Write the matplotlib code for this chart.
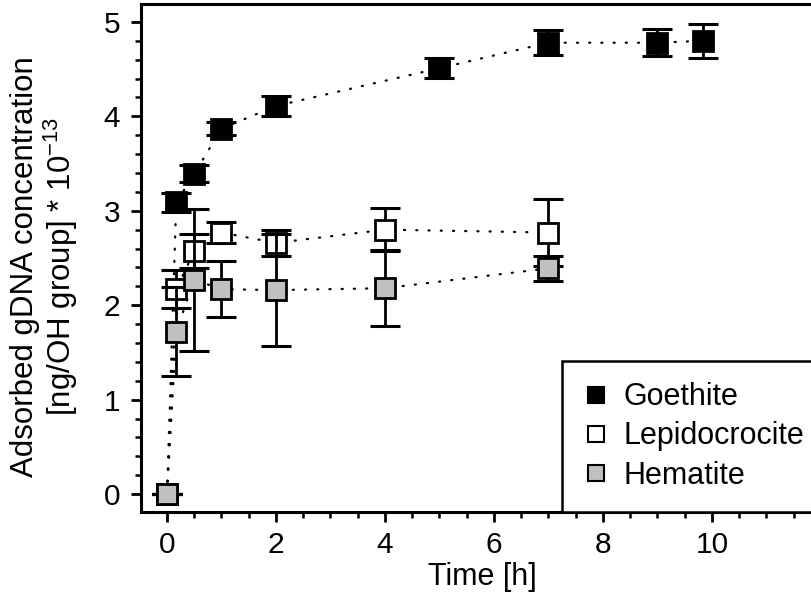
import matplotlib
matplotlib.use("Agg")
import matplotlib.pyplot as plt
from matplotlib.lines import Line2D
from matplotlib.ticker import MultipleLocator

plt.rcParams['font.family'] = ['Liberation Sans', 'DejaVu Sans']

# Data
goethite_t = [0, 0.17, 0.5, 1, 2, 5, 7, 9, 9.83]
goethite_y = [0, 3.09, 3.39, 3.87, 4.11, 4.51, 4.78, 4.78, 4.80]
goethite_e = [0, 0.10, 0.09, 0.07, 0.105, 0.105, 0.13, 0.145, 0.18]

lepido_t = [0, 0.17, 0.5, 1, 2, 4, 7]
lepido_y = [0, 2.17, 2.57, 2.77, 2.66, 2.80, 2.77]
lepido_e = [0, 0.20, 0.18, 0.115, 0.14, 0.23, 0.35]

hematite_t = [0, 0.17, 0.5, 1, 2, 4, 7]
hematite_y = [0, 1.72, 2.27, 2.17, 2.16, 2.18, 2.39]
hematite_e = [0, 0.47, 0.75, 0.30, 0.59, 0.40, 0.135]

series = [
    ("Goethite", goethite_t, goethite_y, goethite_e, "black"),
    ("Lepidocrocite", lepido_t, lepido_y, lepido_e, "white"),
    ("Hematite", hematite_t, hematite_y, hematite_e, "#c0c0c0"),
]

fig = plt.figure(figsize=(8.11, 5.92), dpi=100)
ax = fig.add_axes([141/811, 80/592, (811-141)/811, 508/592])

for i, (name, t, y, e, fc) in enumerate(series):
    ax.plot(t, y, color="black", lw=1.6, linestyle=(0, (0.5, 5.0)),
            dash_capstyle="round", zorder=2 + i * 3)
    ax.errorbar(t, y, yerr=e, fmt="none", ecolor="black", elinewidth=2.0,
                capsize=11, capthick=2.2, zorder=3 + i * 3)
    ax.plot(t, y, linestyle="none", marker="s", markersize=15,
            markerfacecolor=fc, markeredgecolor="black", markeredgewidth=2.0,
            zorder=4 + i * 3)

ax.set_xlim(-0.477, 11.82)
ax.set_ylim(-0.19, 5.19)
ax.xaxis.set_major_locator(MultipleLocator(2))
ax.xaxis.set_minor_locator(MultipleLocator(0.5))
ax.yaxis.set_major_locator(MultipleLocator(1))
ax.yaxis.set_minor_locator(MultipleLocator(0.2))

for s in ["left", "top", "bottom"]:
    ax.spines[s].set_linewidth(2.2)
ax.spines["right"].set_visible(False)

ax.tick_params(which="major", direction="out", length=7, width=2.0,
               labelsize=21.5)
ax.tick_params(axis="x", which="major", pad=7)
ax.tick_params(axis="y", which="major", pad=8)
ax.tick_params(which="minor", direction="out", length=4, width=1.8)
ax.tick_params(top=False, right=False)

ax.set_xlabel("Time [h]", fontsize=22)
ax.xaxis.set_label_coords((482 - 141) / 670, (512 - 562) / 508)
ax.xaxis.label.set_va("top")
ax.set_ylabel("Adsorbed gDNA concentration\n[ng/OH group] * 10$^{\\mathregular{-13}}$",
              fontsize=22.5, linespacing=1.05)
ax.yaxis.set_label_coords((45 - 141) / 670, 0.484)
ax.yaxis.label.set_va("center")

handles = [
    Line2D([], [], linestyle="none", marker="s", markersize=11,
           markerfacecolor=fc, markeredgecolor="black", markeredgewidth=1.5)
    for (_, _, _, _, fc) in series
]
labels = [s[0] for s in series]
leg = ax.legend(handles, labels, loc="lower left",
                bbox_to_anchor=((562 - 141) / 670, 0), borderaxespad=0,
                fontsize=22, frameon=True, fancybox=False, framealpha=1,
                edgecolor="black", handlelength=0.8, handletextpad=0.5,
                labelspacing=0.3, borderpad=0.7)
leg.get_frame().set_linewidth(1.8)
leg.set_zorder(30)

fig.savefig("out.png", dpi=100)
